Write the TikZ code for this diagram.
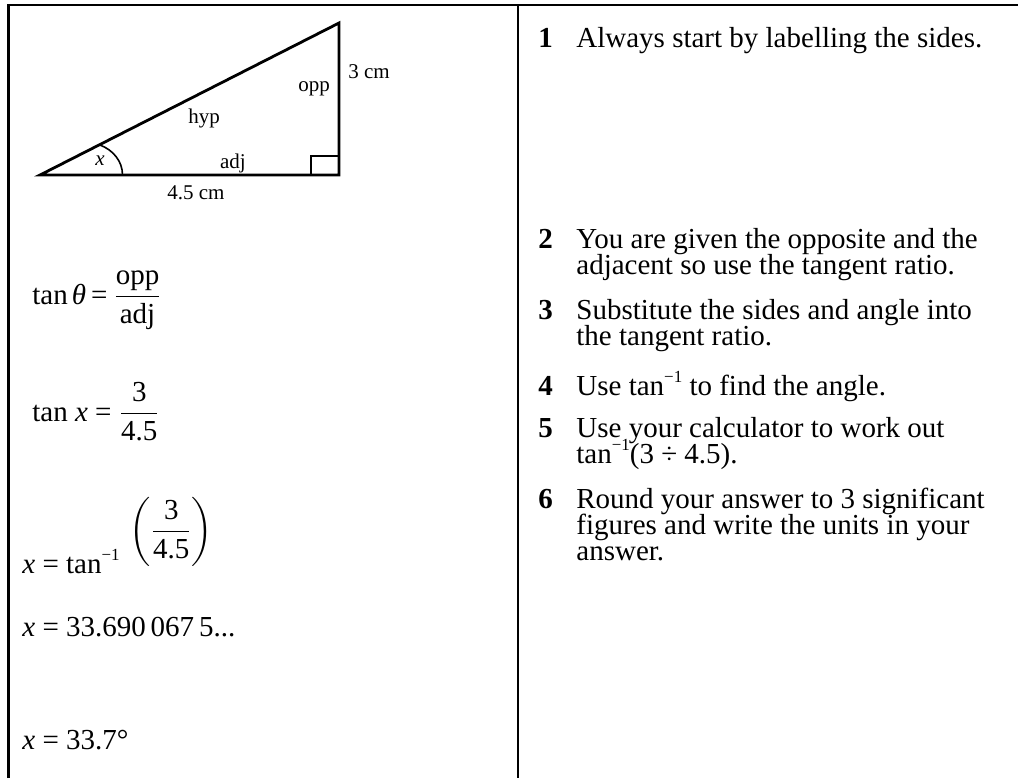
\documentclass[tikz,border=0pt]{standalone}
\usepackage{amsmath}
\usepackage{fontspec}
\setmainfont{Liberation Serif}
\usetikzlibrary{positioning}
\lineskiplimit=-20pt
\lineskip=0pt
\newcommand{\tinv}{\raisebox{0.42em}{\fontsize{8.5}{8.5}\selectfont −1}}

\tikzset{
	frame/.style = { line width = 1.4pt },
	side/.style = { line width = 1.4pt , line join = miter },
	lbl/.style = { font = \fontsize{10.5}{12}\selectfont , inner sep = 0pt },
	anglbl/.style = { font = \fontsize{10.5}{12}\selectfont\itshape , inner sep = 0pt },
	eqn/.style = { font = \fontsize{14.5}{13}\selectfont , inner sep = 0pt , anchor = base west },
	stepnum/.style = { font = \fontsize{14.5}{13}\selectfont\bfseries , inner sep = 0pt , anchor = base west },
	steptext/.style = { font = \fontsize{14.5}{13}\selectfont , inner sep = 0pt , anchor = base west , align = left }
}

\begin{document}
\begin{tikzpicture}[ x = 0.5pt , y = -0.5pt ]
	\useasboundingbox (0,0) rectangle (1018,778);
	\draw[frame] (8.5,778) -- (8.5,5) -- (1018,5);
	\draw[frame] (518,5) -- (518,778);
	% triangle
	\coordinate (A) at (40,175);
	\coordinate (C) at (339,175);
	\coordinate (B) at (339,23);
	\draw[side] (A) -- (C) -- (B) -- cycle;
	\draw[line width = 1pt] (311,175) |- (339,156);
	\draw[line width = 0.8pt] (122.5,175) .. controls (122.5,161) and (113,150) .. (100,145);
	\node[anglbl] (angx) at (100,161) {x};
	\node[lbl] (adj) at (233,163) {adj};
	\node[lbl] (hyp) at (204,118) {hyp};
	\node[lbl] (opp) at (314,89) {opp};
	\node[lbl] (height) at (369,72) {3 cm};
	\node[lbl] (width) at (196,193) {4.5 cm};
	% working
	\node[eqn] (eqtheta) at (32,304) {tan\hspace{2pt}\textit{θ}\hspace{2.5pt}=\hspace{3pt}$\dfrac{\text{opp}}{\text{adj}}$};
	\node[eqn] (eqtanx) at (32,421) {tan \textit{x} = $\dfrac{\text{3}}{\text{4.5}}$};
	\node[eqn] (eqinv) at (22,573) {\textit{x} = tan\tinv\hspace{5pt}\raisebox{17pt}{$\left(\dfrac{\text{3}}{\text{4.5}}\right)$}};
	\node[eqn] (eqval) at (22,636) {\textit{x} = 33.690\,067\,5...};
	\node[eqn] (eqans) at (22,749) {\textit{x} = 33.7°};
	% steps
	\node[stepnum] (n1) at (538,47) {1};
	\node[steptext] (t1) at (576,47) {Always start by labelling the sides.};
	\node[stepnum] (n2) at (538,248) {2};
	\node[steptext] (t2) at (576,274) {You are given the opposite and the\\adjacent so use the tangent ratio.};
	\node[stepnum] (n3) at (538,319) {3};
	\node[steptext] (t3) at (576,345) {Substitute the sides and angle into\\the tangent ratio.};
	\node[stepnum] (n4) at (538,395) {4};
	\node[steptext] (t4) at (576,395) {Use tan\tinv{} to find the angle.};
	\node[stepnum] (n5) at (538,437) {5};
	\node[steptext] (t5) at (576,463) {Use your calculator to work out\\tan\tinv(3 ÷ 4.5).};
	\node[stepnum] (n6) at (538,508) {6};
	\node[steptext] (t6) at (576,560) {Round your answer to 3 significant\\figures and write the units in your\\answer.};
\end{tikzpicture}
\end{document}
